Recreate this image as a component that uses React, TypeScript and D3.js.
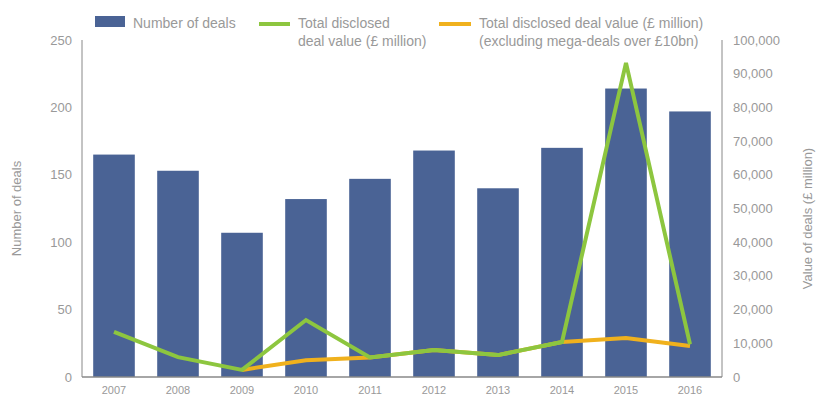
import React from "react";
import * as d3 from "d3";

const years = ["2007","2008","2009","2010","2011","2012","2013","2014","2015","2016"];
const deals = [165,153,107,132,147,168,140,170,214,197];
const totalValue = [13400,5900,2100,16900,5800,8000,6500,10400,93200,9700];
const exclMega = [null,null,2100,5000,5800,8000,6500,10400,11600,9200];
const leftTicks = [0,50,100,150,200,250];
const rightTicks = [0,10000,20000,30000,40000,50000,60000,70000,80000,90000,100000];

const W = 816, H = 396;
const L = 82, R = 722, T = 40, B = 377;
const grey = "#999";
const font = "'Liberation Sans', Arial, sans-serif";

export default function App() {
  const x = d3.scaleBand<string>().domain(years).range([L, R]).paddingInner(0.35).paddingOuter(0.175);
  const yL = d3.scaleLinear().domain([0, 250]).range([B, T]);
  const yR = d3.scaleLinear().domain([0, 100000]).range([B, T]);
  const cx = (y: string) => (x(y) as number) + x.bandwidth() / 2;
  const line = d3.line<any>().defined((d) => d[1] != null).x((d) => cx(d[0])).y((d) => yR(d[1]));
  const fmt = d3.format(",");
  return (
    <svg width={W} height={H} style={{ position: "absolute", left: 0, top: 0, fontFamily: font }}>
      {years.map((yr, i) => (
        <rect key={yr} x={x(yr)} y={yL(deals[i])} width={x.bandwidth()} height={B - yL(deals[i])} fill="#4a6395" />
      ))}
      <path d={line(years.map((y, i) => [y, exclMega[i]])) || ""} fill="none" stroke="#f0b11d" strokeWidth={4} strokeLinejoin="miter" />
      <path d={line(years.map((y, i) => [y, totalValue[i]])) || ""} fill="none" stroke="#8dc63f" strokeWidth={4} strokeLinejoin="miter" />
      <line x1={L} x2={L} y1={T} y2={B} stroke="#888" strokeWidth={1} />
      <line x1={R} x2={R} y1={T} y2={B} stroke="#888" strokeWidth={1} />
      <line x1={L} x2={R} y1={B} y2={B} stroke="#888" strokeWidth={1.5} />
      {leftTicks.map((t) => (
        <text key={t} x={72} y={yL(t)} dy="0.35em" textAnchor="end" fontSize={13} fill={grey}>{t}</text>
      ))}
      {rightTicks.map((t) => (
        <text key={t} x={733} y={yR(t)} dy="0.35em" textAnchor="start" fontSize={13} fill={grey}>{fmt(t)}</text>
      ))}
      {years.map((yr) => (
        <text key={yr} x={cx(yr)} y={390} dy="0.35em" textAnchor="middle" fontSize={11} fill={grey}>{yr}</text>
      ))}
      <text transform={`translate(21,${(T + B) / 2}) rotate(-90)`} textAnchor="middle" fontSize={13} fill={grey}>Number of deals</text>
      <text transform={`translate(812,${(T + B) / 2 + 10}) rotate(-90)`} textAnchor="middle" fontSize={13} fill={grey}>Value of deals (£ million)</text>
      <rect x={95} y={16} width={30} height={11} fill="#4a6395" />
      <text x={133} y={28} fontSize={14} fill={grey}>Number of deals</text>
      <rect x={259} y={22} width={31} height={4} fill="#8dc63f" />
      <text x={298} y={28} fontSize={14} fill={grey}>Total disclosed</text>
      <text x={298} y={46} fontSize={14} fill={grey}>deal value (£ million)</text>
      <rect x={439} y={22} width={32} height={4} fill="#f0b11d" />
      <text x={479} y={28} fontSize={14} fill={grey}>Total disclosed deal value (£ million)</text>
      <text x={479} y={46} fontSize={14} fill={grey}>(excluding mega-deals over £10bn)</text>
    </svg>
  );
}
